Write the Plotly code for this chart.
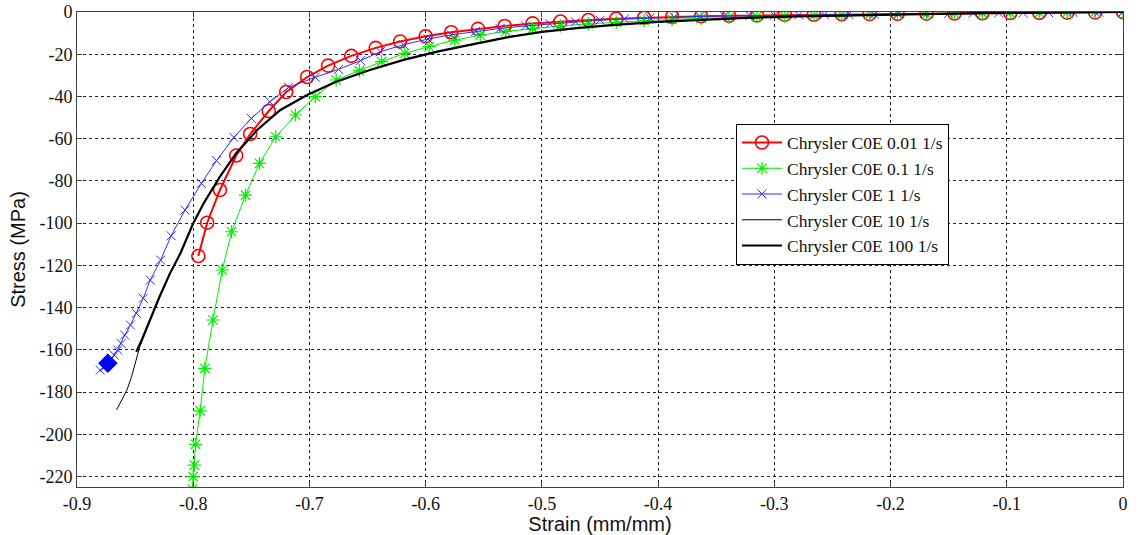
import plotly.graph_objects as go

# ---- data ----
red_x = [0, -0.024, -0.048, -0.072, -0.097, -0.121, -0.145, -0.169, -0.194, -0.218,
         -0.242, -0.266, -0.291, -0.315, -0.339, -0.363, -0.388, -0.412, -0.436, -0.460,
         -0.484, -0.508, -0.532, -0.555, -0.578, -0.600, -0.622, -0.643, -0.664, -0.684,
         -0.702, -0.720, -0.735, -0.751, -0.763, -0.777, -0.788, -0.7956]
red_y = [0, -0.2, -0.3, -0.4, -0.5, -0.6, -0.7, -0.8, -0.9, -1.0,
         -1.1, -1.3, -1.4, -1.6, -1.8, -2.0, -2.3, -2.7, -3.2, -3.8,
         -4.5, -5.4, -6.6, -8.0, -9.6, -11.5, -14.0, -17.0, -20.8, -25.4,
         -30.8, -37.9, -46.9, -57.8, -68.0, -84.3, -99.8, -115.6]

green_x = [0, -0.024, -0.048, -0.072, -0.097, -0.121, -0.145, -0.169, -0.194, -0.218,
           -0.242, -0.266, -0.291, -0.315, -0.339, -0.363, -0.388, -0.412, -0.436, -0.460,
           -0.484, -0.508, -0.531, -0.553, -0.575, -0.597, -0.618, -0.638, -0.657, -0.677,
           -0.695, -0.712, -0.729, -0.743, -0.755, -0.767, -0.775, -0.783, -0.790, -0.794,
           -0.798, -0.799, -0.800, -0.8008]
green_y = [0, -0.1, -0.2, -0.3, -0.4, -0.5, -0.65, -0.8, -0.95, -1.15,
           -1.35, -1.6, -1.9, -2.2, -2.6, -3.0, -3.5, -4.1, -4.8, -5.6,
           -6.6, -7.8, -9.2, -11.0, -13.3, -16.4, -19.6, -23.5, -27.8, -32.2,
           -40.1, -48.8, -59.1, -71.7, -86.7, -104.1, -122.2, -145.9, -168.8, -188.9,
           -204.8, -214.6, -220.1, -226.0]

blue_x = [0, -0.021, -0.043, -0.064, -0.086, -0.107, -0.129, -0.150, -0.171, -0.193,
          -0.214, -0.236, -0.257, -0.279, -0.300, -0.321, -0.343, -0.364, -0.386, -0.407,
          -0.429, -0.450, -0.471, -0.493, -0.514, -0.536, -0.557, -0.578, -0.598, -0.619,
          -0.639, -0.656, -0.675, -0.695, -0.718, -0.734, -0.750, -0.765, -0.780, -0.793,
          -0.807, -0.819, -0.828, -0.837, -0.843, -0.849, -0.854, -0.859, -0.862, -0.865,
          -0.868, -0.8705, -0.8725, -0.8745, -0.8765, -0.880]
blue_y = [0, -0.1, -0.2, -0.3, -0.4, -0.5, -0.6, -0.7, -0.8, -0.9,
          -1.0, -1.1, -1.25, -1.4, -1.55, -1.7, -1.9, -2.1, -2.4, -2.8,
          -3.3, -3.9, -4.7, -5.6, -6.6, -7.8, -9.2, -10.8, -12.8, -15.5,
          -18.8, -23.0, -27.2, -30.9, -35.7, -42.5, -50.4, -59.4, -70.4, -81.2,
          -93.8, -106.0, -117.5, -127.0, -135.6, -142.7, -148.3, -153.0, -157.0, -160.1,
          -162.5, -164.0, -165.5, -166.9, -168.3, -169.6]
# filled end-marker cluster of the 1 1/s series
blue_end_x = [-0.8735]
blue_end_y = [-166.4]

black10_x = [0, -0.04, -0.08, -0.12, -0.16, -0.20, -0.24, -0.28, -0.32, -0.36,
             -0.40, -0.44, -0.47, -0.50, -0.53, -0.562, -0.590, -0.619, -0.648, -0.677,
             -0.702, -0.725, -0.745, -0.763, -0.777, -0.791, -0.800, -0.811, -0.820, -0.829,
             -0.837, -0.846, -0.853, -0.857, -0.863, -0.866]
black10_y = [0, -0.12, -0.3, -0.55, -0.85, -1.2, -1.6, -2.1, -2.7, -3.6,
             -4.7, -6.2, -7.6, -9.4, -12.0, -15.6, -18.8, -22.7, -27.5, -33.0,
             -39.3, -46.4, -55.9, -66.9, -78.0, -90.6, -100.1, -114.3, -123.8, -134.9,
             -145.9, -158.5, -172.7, -179.0, -185.4, -188.5]

black100_x = [0, -0.04, -0.08, -0.12, -0.16, -0.20, -0.24, -0.28, -0.32, -0.36,
              -0.40, -0.44, -0.47, -0.50, -0.53, -0.562, -0.590, -0.619, -0.648, -0.677,
              -0.702, -0.725, -0.745, -0.763, -0.777, -0.791, -0.800, -0.811, -0.820, -0.829,
              -0.837, -0.844, -0.849]
black100_y = [0, -0.12, -0.3, -0.55, -0.85, -1.2, -1.6, -2.1, -2.7, -3.6,
              -4.7, -6.2, -7.6, -9.4, -12.0, -15.6, -18.8, -22.7, -27.5, -33.0,
              -39.3, -46.4, -55.9, -66.9, -78.0, -90.6, -100.1, -114.3, -123.8, -134.9,
              -145.9, -155.0, -161.0]

series_names = ["Chrysler C0E 0.01 1/s", "Chrysler C0E 0.1 1/s", "Chrysler C0E 1 1/s",
                "Chrysler C0E 10 1/s", "Chrysler C0E 100 1/s"]

x_ticks = [-0.9, -0.8, -0.7, -0.6, -0.5, -0.4, -0.3, -0.2, -0.1, 0]
x_tick_labels = ["-0.9", "-0.8", "-0.7", "-0.6", "-0.5", "-0.4", "-0.3", "-0.2", "-0.1", "0"]
y_ticks = [0, -20, -40, -60, -80, -100, -120, -140, -160, -180, -200, -220]
y_tick_labels = [str(v) for v in y_ticks]

RED, GREEN, BLUE = "#ff0000", "#00ee00", "#3030ff"

fig = go.Figure()
fig.add_trace(go.Scatter(x=red_x, y=red_y, name=series_names[0], mode="lines+markers",
                         line=dict(color=RED, width=2),
                         marker=dict(symbol="circle-open", size=13, color=RED,
                                     line=dict(width=1.6, color=RED))))
fig.add_trace(go.Scatter(x=green_x, y=green_y, name=series_names[1], mode="lines+markers",
                         line=dict(color=GREEN, width=1),
                         marker=dict(symbol="asterisk-open", size=11, color=GREEN,
                                     line=dict(width=1.2, color=GREEN))))
fig.add_trace(go.Scatter(x=blue_x, y=blue_y, name=series_names[2], mode="lines+markers",
                         line=dict(color=BLUE, width=1),
                         marker=dict(symbol="x-thin-open", size=9, color=BLUE,
                                     line=dict(width=1, color=BLUE))))
fig.add_trace(go.Scatter(x=blue_end_x, y=blue_end_y, mode="markers", showlegend=False,
                         hoverinfo="skip",
                         marker=dict(symbol="diamond", size=15, color="#0000ff",
                                     line=dict(width=0))))
fig.add_trace(go.Scatter(x=black10_x, y=black10_y, name=series_names[3], mode="lines",
                         line=dict(color="#000000", width=1)))
fig.add_trace(go.Scatter(x=black100_x, y=black100_y, name=series_names[4], mode="lines",
                         line=dict(color="#000000", width=2.2)))

axis_common = dict(showline=True, linecolor="#404040", linewidth=1, mirror="ticks",
                   ticks="inside", ticklen=5, tickcolor="#404040",
                   showgrid=True, gridcolor="#202020", gridwidth=0.8, griddash="3px,3px",
                   zeroline=False,
                   tickfont=dict(family="Liberation Serif", size=18, color="#111"))

fig.update_xaxes(range=[-0.9, 0], tickvals=x_ticks, ticktext=x_tick_labels,
                 title=dict(text="Strain (mm/mm)", standoff=0,
                            font=dict(family="Liberation Sans", size=20, color="#111")),
                 **axis_common)
fig.update_yaxes(range=[-225, 0], tickvals=y_ticks, ticktext=y_tick_labels,
                 title=dict(text="Stress (MPa)", standoff=8,
                            font=dict(family="Liberation Sans", size=20, color="#111")),
                 **axis_common)

fig.update_layout(
    width=1138, height=535,
    margin=dict(l=77, r=15, t=12, b=48, autoexpand=False),
    plot_bgcolor="white", paper_bgcolor="white",
    legend=dict(x=0.630, y=0.765, xanchor="left", yanchor="top",
                bgcolor="white", bordercolor="#000", borderwidth=1,
                font=dict(family="Liberation Serif", size=17.5, color="#111"),
                tracegroupgap=0, itemwidth=40),
    showlegend=True,
)

fig.write_html("out.html")
